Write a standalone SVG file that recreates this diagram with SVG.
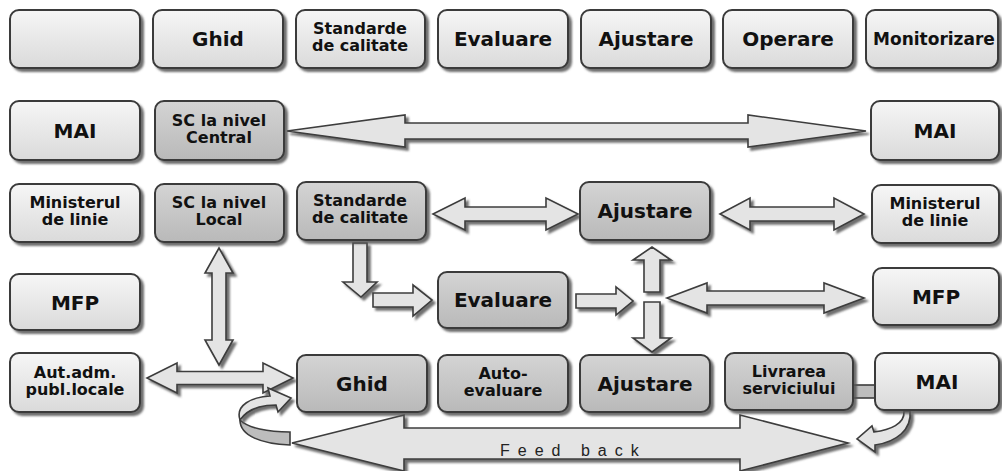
<svg xmlns="http://www.w3.org/2000/svg" width="1002" height="471" viewBox="0 0 1002 471">
<defs>
<linearGradient id="gl" x1="0" y1="0" x2="0" y2="1"><stop offset="0" stop-color="#f6f6f6"/><stop offset="1" stop-color="#dadada"/></linearGradient>
<linearGradient id="gd" x1="0" y1="0" x2="0" y2="1"><stop offset="0" stop-color="#d4d4d4"/><stop offset="1" stop-color="#b9b9b9"/></linearGradient>
<filter id="sh" x="-20%" y="-20%" width="150%" height="150%"><feDropShadow dx="3" dy="3" stdDeviation="1.2" flood-color="#555" flood-opacity="0.85"/></filter>
</defs>
<style>
.bl{fill:url(#gl);stroke:#3a3a3a;stroke-width:2;filter:url(#sh)}
.bd{fill:url(#gd);stroke:#3a3a3a;stroke-width:2;filter:url(#sh)}
.ar{fill:#e4e4e4;stroke:#3c3c3c;stroke-width:1.6;stroke-linejoin:miter;filter:url(#sh)}
.ad{fill:#bdbdbd;stroke:#3c3c3c;stroke-width:1.6}
.t{font-family:"DejaVu Sans","Liberation Sans",sans-serif;font-weight:bold;fill:#111;text-anchor:middle}
.t20{font-size:20px}
.t17{font-size:17px}
.t16{font-size:16px}
.fb{font-family:"Liberation Sans",Arial,sans-serif;font-size:16px;fill:#222;letter-spacing:8px}
</style>
<rect width="1002" height="471" fill="#ffffff"/>

<g id="connectors">
<polygon class="ar" points="287,131 405,115 405,123 748,123 748,115 866,131 748,147 748,139 405,139 405,147"/>
<polygon class="ar" points="433,214 465,198 465,207 546,207 546,198 578,214 546,230 546,221 465,221 465,230"/>
<polygon class="ar" points="720,214 750,198 750,207 834,207 834,198 864,214 834,230 834,221 750,221 750,230"/>
<polygon class="ar" points="667,298 707,283 707,291 824,291 824,283 864,298 824,313 824,305 707,305 707,313"/>
<polygon class="ar" points="147,378 177,363 177,371.5 263,371.5 263,363 293,378 263,393 263,384.5 177,384.5 177,393"/>
<polygon class="ar" points="219,248 233,273 226,273 226,340 233,340 219,365 205,340 212,340 212,273 205,273"/>
<polygon class="ar" points="353,243 367,243 367,282 377,282 361,297 343,282 353,282"/>
<polygon class="ar" points="373,293 413,293 413,285 432,300 413,316 413,307 373,307"/>
<polygon class="ar" points="576,294 616,294 616,287 633,301 616,315 616,308 576,308"/>
<polygon class="ar" points="644,292 644,260 633,260 652,247 671,260 660,260 660,292"/>
<polygon class="ar" points="644,302 660,302 660,338 671,338 652,352 633,338 644,338"/>
<polygon class="ar" points="292,443 404,415 404,428 740,428 740,415 848,443 740,471 740,459 404,459 404,471"/>
<rect class="ad" x="853" y="385" width="23" height="13"/>
<path class="ad" d="M290,432 L290,445 C262,444 240,436 240,420 C248,428 268,432 290,432 Z"/>
<path class="ar" d="M240,420 C235,405 252,397 270,396 L268,388 L291,398 L278,412 L276,405 C262,405 248,408 240,420 Z"/>
<path class="ar" d="M904,411 C905,424 890,430 874,432 L872,426 L857,439 L875,452 L875,445 C896,442 912,430 910,411 Z"/>
<text class="fb" x="500" y="456">Feed back</text>
</g>

<g id="n-r1c1"><rect class="bl" x="10" y="10" width="130" height="58" rx="9"/></g>
<g id="n-r1c2"><rect class="bl" x="153" y="10" width="130" height="58" rx="9"/><text class="t t20" x="218" y="46">Ghid</text></g>
<g id="n-r1c3"><rect class="bl" x="296" y="10" width="129" height="58" rx="9"/><text class="t t16" x="360" y="34">Standarde</text><text class="t t16" x="360" y="51">de calitate</text></g>
<g id="n-r1c4"><rect class="bl" x="438" y="10" width="130" height="58" rx="9"/><text class="t t20" x="503" y="46">Evaluare</text></g>
<g id="n-r1c5"><rect class="bl" x="581" y="10" width="130" height="58" rx="9"/><text class="t t20" x="646" y="46">Ajustare</text></g>
<g id="n-r1c6"><rect class="bl" x="723" y="10" width="130" height="58" rx="9"/><text class="t t20" x="788" y="46">Operare</text></g>
<g id="n-r1c7"><rect class="bl" x="866" y="10" width="132" height="58" rx="9"/><text class="t t17" x="934" y="45">Monitorizare</text></g>

<g id="n-mai1"><rect class="bl" x="10" y="101" width="130" height="59" rx="9"/><text class="t t20" x="75" y="138">MAI</text></g>
<g id="n-scc"><rect class="bd" x="155" y="101" width="129" height="59" rx="9"/><text class="t t16" x="219" y="126">SC la nivel</text><text class="t t16" x="219" y="143">Central</text></g>
<g id="n-mai2"><rect class="bl" x="871" y="101" width="128" height="59" rx="9"/><text class="t t20" x="935" y="138">MAI</text></g>

<g id="n-min1"><rect class="bl" x="10" y="184" width="130" height="58" rx="9"/><text class="t t16" x="75" y="208">Ministerul</text><text class="t t16" x="75" y="225">de linie</text></g>
<g id="n-scl"><rect class="bd" x="155" y="184" width="129" height="58" rx="9"/><text class="t t16" x="219" y="208">SC la nivel</text><text class="t t16" x="219" y="225">Local</text></g>
<g id="n-std2"><rect class="bd" x="297" y="182" width="129" height="58" rx="9"/><text class="t t16" x="360" y="206">Standarde</text><text class="t t16" x="360" y="223">de calitate</text></g>
<g id="n-aj2"><rect class="bd" x="580" y="182" width="130" height="58" rx="9"/><text class="t t20" x="645" y="218">Ajustare</text></g>
<g id="n-min2"><rect class="bl" x="872" y="185" width="127" height="58" rx="9"/><text class="t t16" x="935" y="209">Ministerul</text><text class="t t16" x="935" y="226">de linie</text></g>

<g id="n-mfp1"><rect class="bl" x="10" y="274" width="130" height="56" rx="9"/><text class="t t20" x="75" y="310">MFP</text></g>
<g id="n-ev2"><rect class="bd" x="438" y="272" width="130" height="56" rx="9"/><text class="t t20" x="503" y="307">Evaluare</text></g>
<g id="n-mfp2"><rect class="bl" x="873" y="268" width="126" height="57" rx="9"/><text class="t t20" x="936" y="304">MFP</text></g>

<g id="n-aut"><rect class="bl" x="10" y="353" width="130" height="59" rx="9"/><text class="t t16" x="75" y="378">Aut.adm.</text><text class="t t16" x="75" y="395">publ.locale</text></g>
<g id="n-ghid2"><rect class="bd" x="297" y="355" width="130" height="57" rx="9"/><text class="t t20" x="362" y="391">Ghid</text></g>
<g id="n-auto"><rect class="bd" x="438" y="355" width="130" height="57" rx="9"/><text class="t t16" x="503" y="379">Auto-</text><text class="t t16" x="503" y="396">evaluare</text></g>
<g id="n-aj3"><rect class="bd" x="580" y="355" width="130" height="57" rx="9"/><text class="t t20" x="645" y="391">Ajustare</text></g>
<g id="n-liv"><rect class="bd" x="725" y="353" width="128" height="57" rx="9"/><text class="t t16" x="789" y="377">Livrarea</text><text class="t t16" x="789" y="394">serviciului</text></g>
<g id="n-mai3"><rect class="bl" x="875" y="353" width="124" height="57" rx="9"/><text class="t t20" x="937" y="389">MAI</text></g>
</svg>
